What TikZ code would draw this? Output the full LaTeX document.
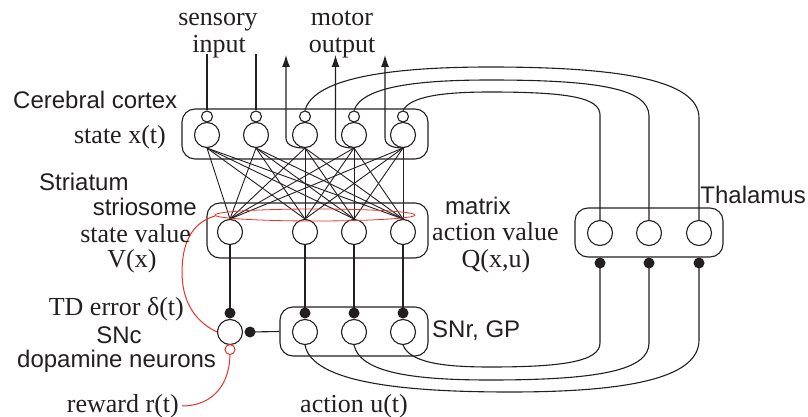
\documentclass[tikz,border=0pt]{standalone}
\usepackage{fontspec}
\setmainfont{Liberation Serif}
\setsansfont{Liberation Sans}
\usetikzlibrary{arrows.meta}
\definecolor{redline}{RGB}{232,50,40}
\definecolor{ink}{RGB}{35,31,32}
\begin{document}
\begin{tikzpicture}[x=1pt,y=-1pt,
  neuron/.style={circle,draw=ink,line width=1.1pt,minimum size=25pt,inner sep=0pt},
  syn/.style={circle,draw=ink,line width=1.1pt,minimum size=11pt,inner sep=0pt},
  dotn/.style={circle,fill=ink,draw=none,minimum size=11pt,inner sep=0pt},
  grp/.style={rectangle,rounded corners=13pt,draw=ink,line width=1.1pt,inner sep=0pt},
  wire/.style={draw=ink,line width=1.1pt},
  redwire/.style={draw=redline,line width=1pt},
  sanslbl/.style={font=\sffamily\fontsize{24}{28}\selectfont,text=ink,inner sep=0pt},
  seriflbl/.style={font=\fontsize{26}{30}\selectfont,text=ink,inner sep=0pt},
  outarrow/.style={wire,-{Latex[length=12pt,width=8pt]}}
]
\useasboundingbox (0,0) rectangle (808,417);

% group boxes
\node[grp,minimum width=246pt,minimum height=50pt] (ctxbox) at (305,134) {};
\node[grp,minimum width=221pt,minimum height=55pt] (strbox) at (317.5,230.5) {};
\node[grp,minimum width=148pt,minimum height=49pt] (snrbox) at (354,331.5) {};
\node[grp,minimum width=148pt,minimum height=49pt] (thbox) at (649,232.5) {};

% cortex neurons
\foreach \i/\x in {1/207,2/256,3/305,4/354,5/403}{
  \node[neuron,fill=white] (c\i) at (\x,135) {};
  \node[syn,fill=white] (s\i) at (\x,116.5) {};
}
% striatum neurons
\foreach \j/\x in {1/230,2/305,3/354,4/403}{
  \node[neuron] (st\j) at (\x,232) {};
  \node[dotn] (d\j) at (\x,313) {};
}
% SNc and SNr neurons
\node[neuron] (snc) at (230,332) {};
\node[dotn] (dsn) at (250,332) {};
\foreach \k/\x in {1/305,2/354,3/403}{
  \node[neuron] (r\k) at (\x,332) {};
}
% thalamus neurons
\foreach \k/\x in {1/600,2/649,3/699}{
  \node[neuron] (t\k) at (\x,233) {};
  \node[dotn] (td\k) at (\x,263) {};
}
\node[circle,draw=redline,line width=1pt,minimum size=10pt,inner sep=0pt] (rc) at (230,349.5) {};

% all-to-all cortex -> striatum
\foreach \i in {1,...,5}{
  \foreach \j in {1,...,4}{
    \draw[draw=ink,line width=0.9pt] (c\i.south) -- (st\j.north);
  }
}
% striatum -> SNc / SNr
\foreach \j in {1,...,4}{
  \draw[wire] (st\j.south) -- (d\j.center);
}
\draw[wire] (dsn.center) -- (snrbox.west);

% sensory inputs
\coordinate (in1) at (207,54);
\coordinate (in2) at (256,54);
\draw[wire] (in1) -- (s1.north);
\draw[wire] (in2) -- (s2.north);

% motor outputs
\coordinate (mo3) at (286,55);
\coordinate (mo4) at (335.5,55);
\coordinate (mo5) at (385,55);
\draw[outarrow] (c3.south) to[out=180,in=-90] (286,138) -- (mo3);
\draw[outarrow] (c4.south) to[out=180,in=-90] (335.5,138) -- (mo4);
\draw[outarrow] (c5.south) to[out=180,in=-90] (385,138) -- (mo5);

% cortex -> thalamus loops (top)
\draw[wire] (s3.north) .. controls (314,76) and (400,67) .. (490,67)
  .. controls (620,67) and (699,80) .. (699,118) -- (t3.north);
\draw[wire] (s4.north) .. controls (362,86) and (420,80) .. (490,80)
  .. controls (595,80) and (649,88) .. (649,116) -- (t2.north);
\draw[wire] (s5.north) .. controls (410,97) and (440,92) .. (490,92)
  .. controls (570,92) and (600,98) .. (600,115) -- (t1.north);

% SNr -> thalamus loops (bottom)
\draw[wire] (r1.south) .. controls (312,382) and (400,392) .. (510,392)
  .. controls (640,392) and (699,375) .. (699,340) -- (td3.center);
\draw[wire] (r2.south) .. controls (360,372) and (410,380) .. (490,380)
  .. controls (600,380) and (649,370) .. (649,343) -- (td2.center);
\draw[wire] (r3.south) .. controls (410,362) and (440,367) .. (490,367)
  .. controls (560,367) and (600,362) .. (600,343) -- (td1.center);

% red: TD learning signal
\draw[redwire,line width=0.8pt] (315,215) ellipse [x radius=100pt, y radius=6pt];
\draw[redwire] (snc.west) .. controls (192,320) and (182,298) .. (182,272)
  .. controls (182,240) and (194,222) .. (215,216);
\coordinate (rew) at (182,406);
\draw[redwire] (rc.south) .. controls (229,390) and (208,406) .. (rew);

% labels
\node[seriflbl,anchor=base] (lsens) at (218,26) {sensory};
\node[seriflbl,anchor=base] (linp) at (219,53) {input};
\node[seriflbl,anchor=base] (lmot) at (342,26) {motor};
\node[seriflbl,anchor=base] (lout) at (342,53) {output};
\node[sanslbl,anchor=base west] (lctx) at (13,109) {Cerebral cortex};
\node[seriflbl,anchor=base east] (lstate) at (166,143) {state x(t)};
\node[sanslbl,anchor=base west] (lstr) at (39,190) {Striatum};
\node[sanslbl,anchor=base east] (lstrio) at (197,215) {striosome};
\node[seriflbl,anchor=base east] (lsv) at (191,242) {state value};
\node[seriflbl,anchor=base] (lvx) at (132,267) {V(x)};
\node[seriflbl,anchor=base east] (ltd) at (184,315) {TD error δ(t)};
\node[sanslbl,anchor=base] (lsnc) at (119,343) {SNc};
\node[sanslbl,anchor=base west] (ldop) at (17,367) {dopamine neurons};
\node[seriflbl,anchor=base east] (lrew) at (179,412) {reward r(t)};
\node[seriflbl,anchor=base] (lact) at (354,412) {action u(t)};
\node[sanslbl,anchor=base west] (lmat) at (445,214) {matrix};
\node[seriflbl,anchor=base west] (lav) at (432,240) {action value};
\node[seriflbl,anchor=base] (lq) at (496,267) {Q(x,u)};
\node[sanslbl,anchor=base west] (lsnr) at (432,337) {SNr, GP};
\node[sanslbl,anchor=base east] (lthal) at (806,203) {Thalamus};
\end{tikzpicture}
\end{document}
